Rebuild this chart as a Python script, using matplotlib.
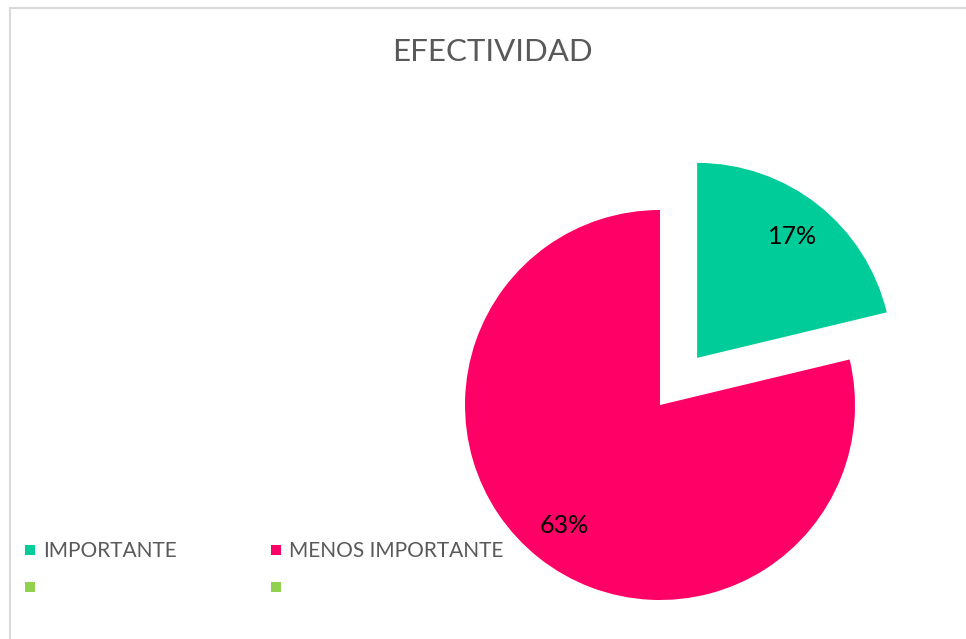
import matplotlib.pyplot as plt
from matplotlib.lines import Line2D

categorias = ["IMPORTANTE", "MENOS IMPORTANTE"]
valores = [17, 63]
colores = ["#00CC99", "#FF0066"]
extra_color = "#92D050"

plt.rcParams['font.family'] = ['Lato', 'DejaVu Sans']

fig = plt.figure(figsize=(9.66, 6.39), dpi=100)

# chart frame (only the top and left edges show)
fig.add_artist(Line2D([9.5 / 966, 9.5 / 966], [0, 1 - 7.5 / 639], color="#D9D9D9", lw=1.5))
fig.add_artist(Line2D([9.5 / 966, 1], [1 - 7.5 / 639, 1 - 7.5 / 639], color="#D9D9D9", lw=1.5))

fig.text(492 / 966, 1 - 52 / 639, "EFECTIVIDAD", ha="center", va="center",
         fontsize=22.5, color="#595959")

# pie axes in pixel units, centre at (660, 405)
ax = fig.add_axes([(660 - 250) / 966, (639 - 405 - 250) / 639, 500 / 966, 500 / 639])

total = sum(valores)
wedges, _, autotexts = ax.pie(valores, colors=colores, radius=195, explode=[60, 0],
                              startangle=90, counterclock=False,
                              autopct=lambda p: f"{p * total / 100:.0f}%",
                              pctdistance=0.79, frame=True,
                              textprops=dict(fontsize=18, color="black"))
ax.set_xlim(-250, 250)
ax.set_ylim(-250, 250)
ax.axis("off")


def square(c):
    return Line2D([], [], marker="s", ls="", color=c, markersize=7, markeredgewidth=0)


handles = [square(colores[0]), square(extra_color),
           square(colores[1]), square(extra_color)]
labels = [categorias[0], "", categorias[1], ""]
fig.legend(handles, labels, ncol=2, loc="upper left",
           bbox_to_anchor=(25 / 966, 1 - 541 / 639), frameon=False, borderpad=0,
           borderaxespad=0, fontsize=15, labelcolor="#595959",
           handlelength=0.45, handletextpad=0.43,
           columnspacing=4.5, labelspacing=0.85)

fig.savefig("out.png", dpi=100)
